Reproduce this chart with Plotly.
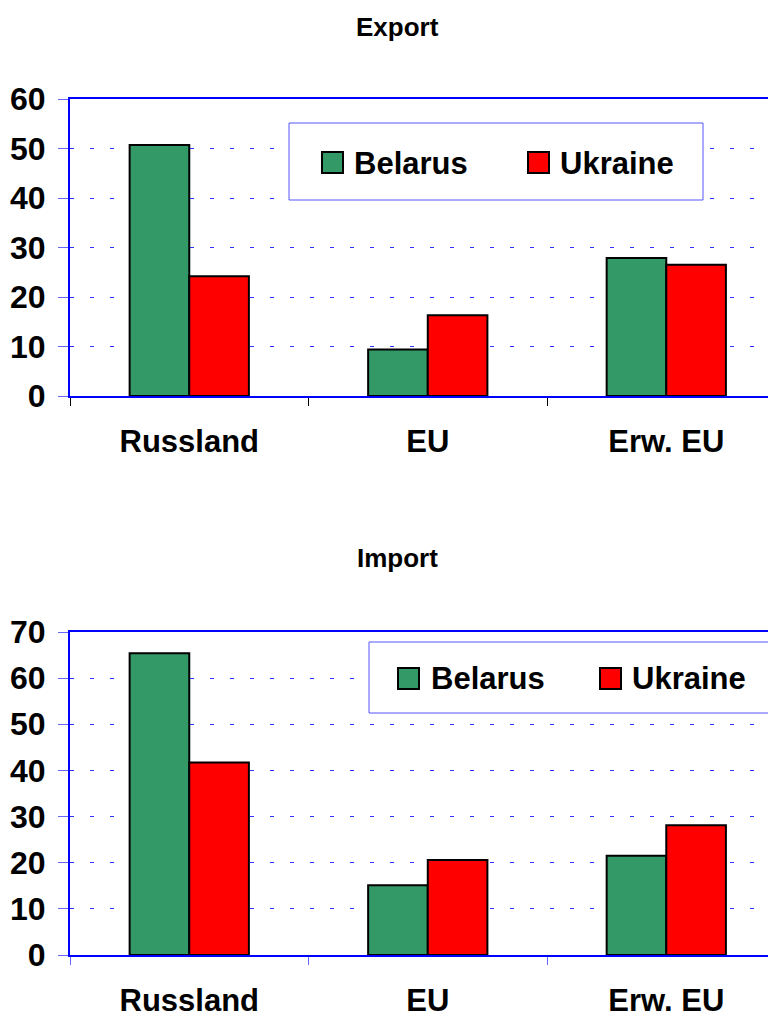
import plotly.graph_objects as go

categories = ["Russland", "EU", "Erw. EU"]
series_names = ["Belarus", "Ukraine"]
export_belarus = [50.7, 9.4, 27.9]
export_ukraine = [24.2, 16.3, 26.5]
import_belarus = [65.4, 15.1, 21.5]
import_ukraine = [41.7, 20.6, 28.1]
titles = ["Export", "Import"]
colors = ["#339966", "#ff0000"]

# page body has an 8px margin; compensate so the figure lands where the reference is
OFF = 8
W, H = 776 - OFF, 1015 - OFF
ML = 70 - OFF

def xp(px):
    return (px - OFF - ML) / (W - ML)

def yp(py):
    return (H - (py - OFF)) / H

FONT = "Liberation Sans, Arial, sans-serif"

fig = go.Figure()
data = [(export_belarus, export_ukraine), (import_belarus, import_ukraine)]
for i, (b, u) in enumerate(data):
    xa = "x" if i == 0 else "x2"
    ya = "y" if i == 0 else "y2"
    for name, vals, col in zip(series_names, (b, u), colors):
        fig.add_trace(go.Bar(x=categories, y=vals, name=name, xaxis=xa, yaxis=ya,
                             marker=dict(color=col, line=dict(color="black", width=2)),
                             showlegend=False))

axis_blue = "#0000ff"
grid_blue = "#3333ff"
tickfont = dict(family=FONT, size=32, color="black", weight="bold")
catfont = dict(family=FONT, size=31, color="black", weight="bold")

def xaxis_cfg(anchor, tickcol):
    return dict(domain=[0, 1], anchor=anchor, range=[-0.5, 2.46], showline=True, linecolor=axis_blue,
                linewidth=2, mirror=True, ticks="outside", tickson="boundaries", ticklen=8,
                tickcolor=tickcol, tickwidth=1, tickfont=catfont, ticklabelstandoff=17,
                showgrid=False, zeroline=False, fixedrange=True, automargin=False)

def yaxis_cfg(anchor, domain, rmax):
    return dict(domain=domain, anchor=anchor, range=[0, rmax], dtick=10, showline=True,
                linecolor=axis_blue, linewidth=2, ticks="outside", ticklen=10, tickcolor="#6666ff",
                tickwidth=1, tickfont=tickfont, ticklabelstandoff=6, showgrid=True,
                gridcolor=grid_blue, gridwidth=1, griddash="4px,16px", zeroline=False,
                automargin=False)

fig.update_layout(
    template="none",
    width=W, height=H, margin=dict(l=ML, r=0, t=0, b=0, autoexpand=False),
    paper_bgcolor="white", plot_bgcolor="white",
    barmode="group", bargap=0.5, bargroupgap=0,
    xaxis=xaxis_cfg("y", "black"),
    yaxis=yaxis_cfg("x", [yp(396), yp(99)], 60),
    xaxis2=xaxis_cfg("y2", "#6666ff"),
    yaxis2=yaxis_cfg("x2", [yp(955), yp(632)], 70),
    showlegend=False,
)

# titles
for t, py in zip(titles, [27, 558]):
    fig.add_annotation(text=t, xref="paper", yref="paper", x=xp(397), y=yp(py),
                       showarrow=False, xanchor="center", yanchor="middle",
                       font=dict(family=FONT, size=26, color="black", weight="bold"))

# custom legends
legends = [
    dict(box=(289, 123, 703, 200), sw=[(322, 152), (528, 152)], tx=[352, 558]),
    dict(box=(369, 642, 772, 713), sw=[(398, 668), (600, 668)], tx=[429, 630]),
]
for lg in legends:
    x0, y0, x1, y1 = lg["box"]
    fig.add_shape(type="rect", xref="paper", yref="paper", x0=xp(x0), x1=xp(x1), y0=yp(y1), y1=yp(y0),
                  line=dict(color="#5555ff", width=1), fillcolor="white", layer="above")
    for (sx, sy), tx, name, col in zip(lg["sw"], lg["tx"], series_names, colors):
        fig.add_shape(type="rect", xref="paper", yref="paper", x0=xp(sx), x1=xp(sx + 21),
                      y0=yp(sy + 21), y1=yp(sy), line=dict(color="black", width=2),
                      fillcolor=col, layer="above")
        fig.add_annotation(text=name, xref="paper", yref="paper", x=xp(tx), y=yp(sy + 11),
                           showarrow=False, xanchor="left", yanchor="middle",
                           font=dict(family=FONT, size=31, color="black", weight="bold"))

fig.write_html("out.html")
